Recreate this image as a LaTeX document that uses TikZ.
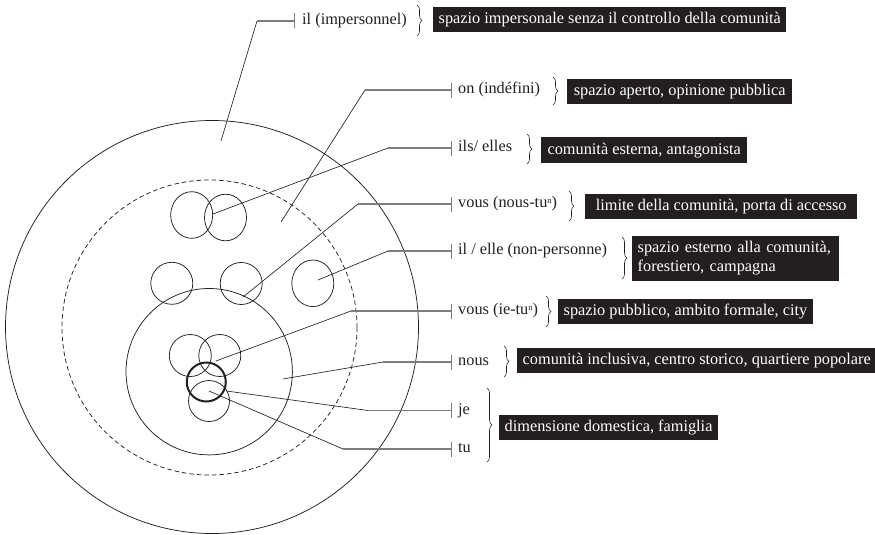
\documentclass[tikz,border=0pt]{standalone}
\usepackage{fontspec}
\setmainfont{Liberation Serif}
\usetikzlibrary{decorations.pathreplacing}
\definecolor{ink}{HTML}{231F20}
\definecolor{armgray}{HTML}{7D7D7D}
\newcommand{\lblfont}{\fontsize{16.3}{19}\selectfont}
\newcommand{\supn}{\raisebox{4.5pt}{\fontsize{8.5}{9}\selectfont n}}
\begin{document}
\begin{tikzpicture}[x=1pt,y=-1pt,
  ring/.style={draw=ink, line width=0.75pt},
  boldring/.style={draw=ink, line width=2pt},
  dashring/.style={draw=ink, line width=0.75pt, dash pattern=on 4.5pt off 3pt},
  leader/.style={draw=ink, line width=0.65pt},
  arm/.style={draw=armgray, line width=1.1pt},
  tickmark/.style={draw=armgray, line width=0.8pt},
  lbl/.style={anchor=west, text=ink, font=\lblfont, inner sep=0pt,
    text height=11pt, text depth=3.5pt},
  tagbase/.style={anchor=west, fill=ink, text=white, font=\lblfont,
    inner xsep=5.5pt},
  tag/.style={tagbase, inner ysep=0pt, text height=11.5pt, text depth=3.5pt,
    minimum height=25.5pt},
  brc/.style={draw=ink, line width=0.6pt, decorate,
    decoration={brace, amplitude=5pt}}]
\useasboundingbox (0,0) rectangle (875,535);

% ---- spatial rings ----
\draw[ring] (212,327) circle[radius=206.5pt];
\draw[dashring] (209.5,327.5) circle[radius=147.5pt];
\draw[ring] (209.2,371.7) circle[radius=83.2pt];

% ---- small circles ----
\draw[ring] (191.7,215) ellipse[x radius=21pt, y radius=23.3pt];
\draw[ring] (225.5,217.5) ellipse[x radius=21pt, y radius=23.3pt];
\draw[ring] (171.8,283.3) circle[radius=21pt];
\draw[ring] (241.2,283.5) circle[radius=21pt];
\draw[ring] (312.8,283.3) ellipse[x radius=21pt, y radius=23.3pt];
\draw[ring] (190.3,355.5) circle[radius=21pt];
\draw[ring] (219.8,355.5) circle[radius=21pt];
\draw[ring] (209,401) circle[radius=20.5pt];
\draw[boldring] (206.3,382) circle[radius=19.5pt];

% ---- leader end points inside the figure ----
\coordinate (p-il)   at (221,141);
\coordinate (p-on)   at (281,222);
\coordinate (p-ils)  at (213,214);
\coordinate (p-vnt)  at (243,297);
\coordinate (p-elle) at (318,280);
\coordinate (p-vit)  at (216,361);
\coordinate (p-nous) at (283,379);
\coordinate (p-je)   at (226.5,391);
\coordinate (p-tu)   at (209,391);

% ---- bends ----
\coordinate (b-il)   at (257,21);
\coordinate (b-on)   at (365,90);
\coordinate (b-ils)  at (388,148);
\coordinate (b-vnt)  at (358,204);
\coordinate (b-elle) at (388,251);
\coordinate (b-vit)  at (351,311);
\coordinate (b-nous) at (383,362);
\coordinate (b-je)   at (368,410.5);
\coordinate (b-tu)   at (343,449);

% ---- ticks ----
\coordinate (t-il)   at (294,21);
\coordinate (t-on)   at (451,90);
\coordinate (t-ils)  at (451,148);
\coordinate (t-vnt)  at (451,204);
\coordinate (t-elle) at (451,251);
\coordinate (t-vit)  at (451,311);
\coordinate (t-nous) at (451,362);
\coordinate (t-je)   at (451,410.5);
\coordinate (t-tu)   at (451,449);

\foreach \k in {il,on,ils,vnt,elle,vit,nous,je,tu}{
  \draw[leader] (p-\k) -- (b-\k);
  \draw[arm] (b-\k) -- (t-\k);
  \draw[tickmark] ([yshift=-7.5pt]t-\k) -- ([yshift=7.5pt]t-\k);
}

% ---- pronoun labels ----
\node[lbl] (n-il)   at (302,21)    {il (impersonnel)};
\node[lbl] (n-on)   at (458,90)    {on (indéfini)};
\node[lbl] (n-ils)  at (458,148)   {ils/ elles};
\node[lbl] (n-vnt)  at (458,204)   {vous (nous-tu\supn)};
\node[lbl] (n-elle) at (458,251)   {il / elle (non-personne)};
\node[lbl] (n-vit)  at (458,311)   {vous (ie-tu\supn)};
\node[lbl] (n-nous) at (458,362)   {nous};
\node[lbl] (n-je)   at (458,410.5) {je};
\node[lbl] (n-tu)   at (458,449)   {tu};

% ---- braces ----
\draw[brc] (417,5)   -- (417,36);
\draw[brc] (553,77)  -- (553,105);
\draw[brc] (527,134) -- (527,164);
\draw[brc] (569,191) -- (569,221);
\draw[brc] (622,237) -- (622,279);
\draw[brc] (546,296) -- (546,327);
\draw[brc] (504,346) -- (504,377);
\draw[brc] (487,388) -- (487,462);

% ---- meaning tags ----
\node[tag, minimum width=344pt] (d-il)   at (433,19.5)  {spazio impersonale senza il controllo della comunità};
\node[tag, minimum width=225pt] (d-on)   at (567,91.5)  {spazio aperto, opinione pubblica};
\node[tag, minimum width=206pt] (d-ils)  at (541,150)   {comunità esterna, antagonista};
\node[tag, minimum width=272pt] (d-vnt)  at (585,206.5) {limite della comunità, porta di accesso};
\node[tagbase, align=left, text width=196pt, inner ysep=6pt] (d-elle) at (632,258.5)
  {spazio esterno alla comunità,\\forestiero, campagna};
\node[tag, minimum width=253pt] (d-vit)  at (558,311.5) {spazio pubblico, ambito formale, city};
\node[tag, minimum width=356pt] (d-nous) at (517,360.5) {comunità inclusiva, centro storico, quartiere popolare};
\node[tag, minimum width=218pt] (d-je)   at (499,427.5) {dimensione domestica, famiglia};
\end{tikzpicture}
\end{document}
